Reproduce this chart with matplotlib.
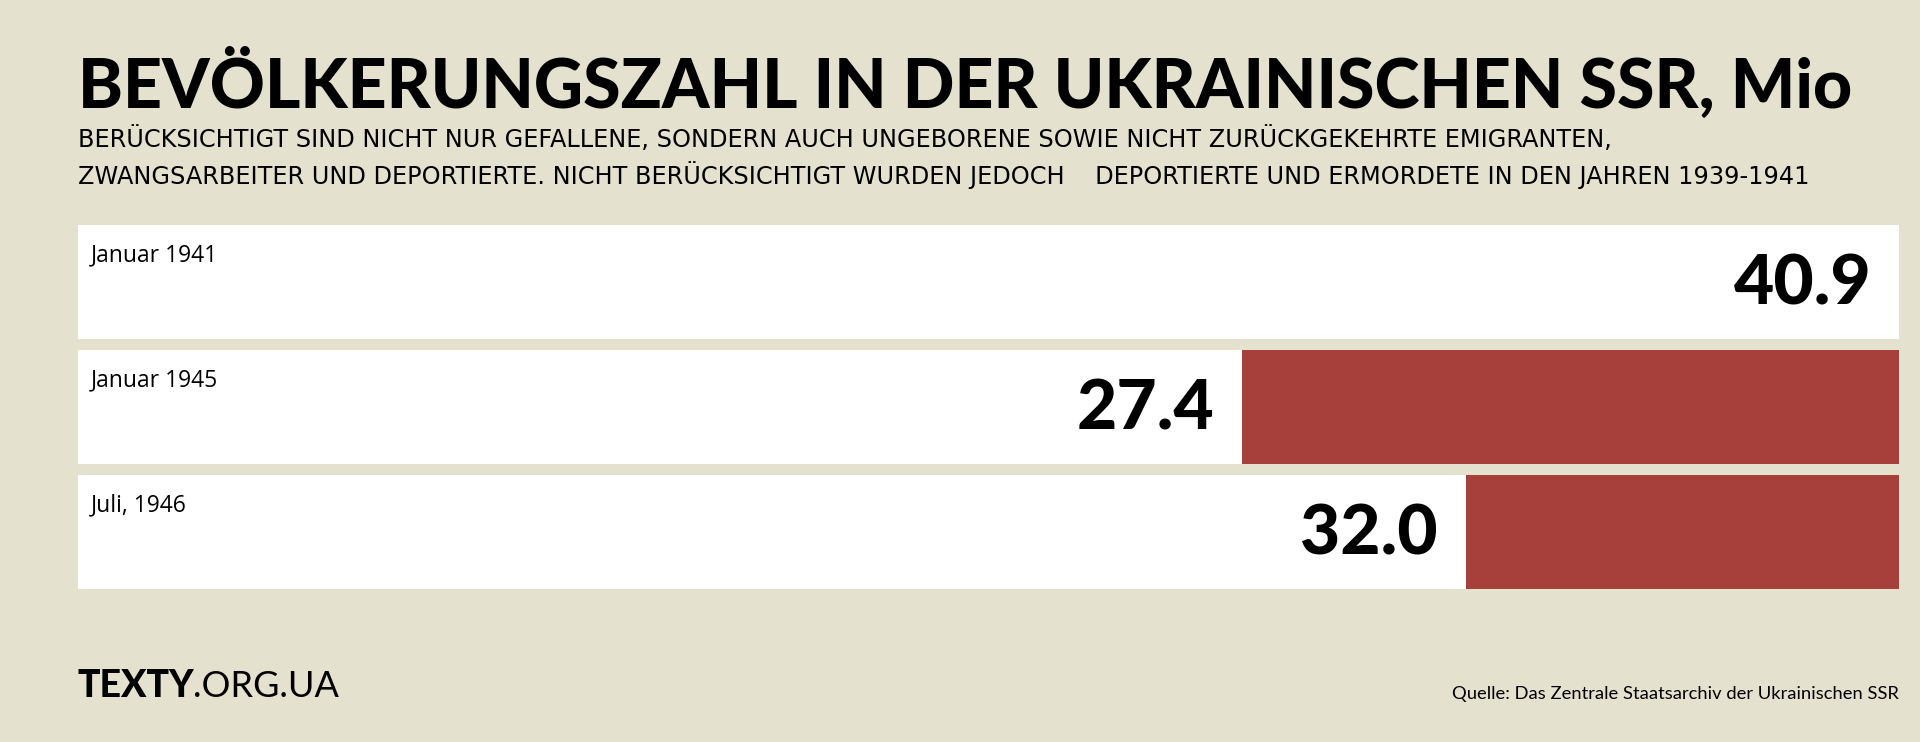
import matplotlib.pyplot as plt

# data
periods = ['Januar 1941', 'Januar 1945', 'Juli, 1946']
population = [40.9, 27.4, 32.0]

title = 'BEVÖLKERUNGSZAHL IN DER UKRAINISCHEN SSR, Mio'
subtitle = ('BERÜCKSICHTIGT SIND NICHT NUR GEFALLENE, SONDERN AUCH UNGEBORENE SOWIE NICHT ZURÜCKGEKEHRTE EMIGRANTEN,\n'
            'ZWANGSARBEITER UND DEPORTIERTE. NICHT BERÜCKSICHTIGT WURDEN JEDOCH    DEPORTIERTE UND ERMORDETE IN DEN JAHREN 1939-1941')
source = 'Quelle: Das Zentrale Staatsarchiv der Ukrainischen SSR'

bg = '#E4E2CE'
red = '#A73F3B'
font = 'Lato'

fig = plt.figure(figsize=(19.2, 7.42), dpi=100, facecolor=bg)
ax = fig.add_axes([78 / 1920, 1 - 594.5 / 742, 1821 / 1920, 375 / 742])
ax.set_facecolor(bg)

x_start = 3.5  # axis offset so bars line up with the original
total = max(population)
ys = list(range(len(periods)))

# white row backgrounds, red part = loss relative to 1941
ax.barh(ys, total - x_start, left=x_start, height=0.91, color='white')
losses = [total - p for p in population]
ax.barh(ys, losses, left=population, height=0.91, color=red)

for y, name, val in zip(ys, periods, population):
    ax.annotate(name, (x_start, y - 0.455), xytext=(9, -13), textcoords='offset points',
                ha='left', va='top', fontsize=16.5, family='Open Sans')
    ax.annotate(f'{val:.1f}', (val, y), xytext=(-20, -2), textcoords='offset points',
                ha='right', va='center', fontsize=50, fontweight='black', family=font)

ax.set_xlim(x_start, total)
ax.set_ylim(len(periods) - 0.5, -0.5)
ax.axis('off')

fig.text(78 / 1920, 1 - 108 / 742, title, fontsize=49, fontweight='black', family=font,
         ha='left', va='baseline')
fig.text(78 / 1920, 1 - 126 / 742, subtitle, fontsize=17.3, family='DejaVu Sans', ha='left', va='top',
         linespacing=1.4)

fig.text(78 / 1920, 1 - 697 / 742, 'TEXTY', fontsize=27, fontweight='black', family=font,
         ha='left', va='baseline')
fig.text(193 / 1920, 1 - 697 / 742, '.ORG.UA', fontsize=26, family=font,
         ha='left', va='baseline')
fig.text(1899 / 1920, 1 - 699 / 742, source, fontsize=13.2, family=font, ha='right', va='baseline')

fig.savefig('out.png', dpi=100, facecolor=bg)
